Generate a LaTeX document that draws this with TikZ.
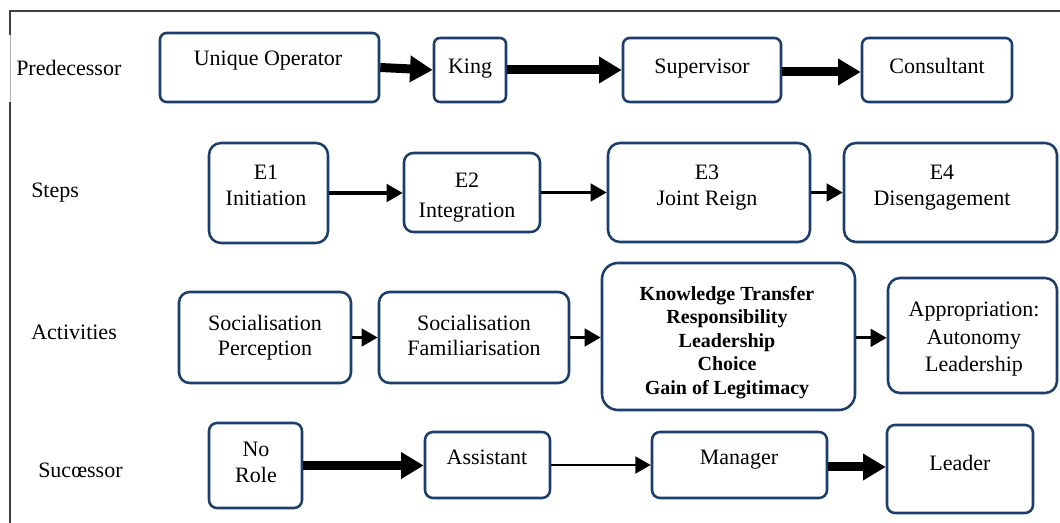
\documentclass[tikz,border=0pt]{standalone}
\usepackage{fontspec}
\setmainfont{Liberation Serif}
\usetikzlibrary{arrows.meta}
\definecolor{boxblue}{RGB}{28,62,108}
\definecolor{framegray}{RGB}{64,64,64}
\newcommand{\rbox}[6]{\node[box, rounded corners=#6, minimum width={(#4-#2)*0.75pt}, minimum height={(#5-#3)*0.75pt}] (#1) at ({(#2+#4)/2},{(#3+#5)/2}) {};}
\begin{document}
\begin{tikzpicture}[x=0.75pt,y=-0.75pt,
  box/.style={draw=boxblue, line width=1.9pt, inner sep=0pt, fill=white},
  txt/.style={font=\fontsize{16.5}{19}\selectfont, align=center, inner sep=0pt},
  btxt/.style={font=\fontsize{15}{17.6}\selectfont\bfseries, align=center, inner sep=0pt},
  bigarrow/.style={line width=6.75pt, -{Triangle[length=17pt,width=19pt]}},
  smallarrow/.style={line width=2.5pt, -{Triangle[length=12pt,width=13pt]}},
  thinarrow/.style={line width=2pt, -{Triangle[length=11.5pt,width=12.5pt]}},
  framel/.style={draw=framegray, line width=1.5pt}
]
\useasboundingbox (0,0) rectangle (1060,523);
\fill[white] (0,0) rectangle (1060,523);
% frame
\draw[framel] (10,523) -- (10,102);
\draw[framel] (10,35) -- (10,11) -- (1060,11);
\draw[draw=gray!60, line width=0.6pt] (10,35) -- (10,102);
% row labels
\node[txt, anchor=base west] (lpred) at (16,76) {Predecessor};
\node[txt, anchor=base west] (lsteps) at (31,198) {Steps};
\node[txt, anchor=base west] (lact) at (31,340) {Activities};
\node[txt, anchor=base west] (lsucc) at (38,478) {Sucœssor};
% boxes
\rbox{uo}{160}{33}{379}{102}{5pt}
\rbox{king}{434}{38}{506}{102}{4.5pt}
\rbox{sup}{623}{38}{781}{102}{5pt}
\rbox{cons}{862}{38}{1012}{102}{5pt}
\rbox{eone}{209}{143}{328}{243}{9pt}
\rbox{etwo}{404}{153}{540}{232}{7pt}
\rbox{ethree}{608}{143}{810}{242}{9pt}
\rbox{efour}{844}{143}{1057}{242}{9pt}
\rbox{sp}{179}{292}{351}{383}{8pt}
\rbox{sf}{379}{292}{569}{383}{8pt}
\rbox{kt}{602}{263}{855}{410}{12pt}
\rbox{ap}{888}{278}{1057}{393}{9pt}
\rbox{nr}{209}{423}{302}{508}{6pt}
\rbox{as}{425}{432}{550}{498}{6pt}
\rbox{mg}{652}{432}{827}{498}{6pt}
\rbox{ld}{887}{425}{1033}{513}{6pt}
% texts
\node[txt, anchor=base] (tuo) at (268,66) {Unique Operator};
\node[txt, anchor=base] (tking) at (470,74) {King};
\node[txt, anchor=base] (tsup) at (702,74) {Supervisor};
\node[txt, anchor=base] (tcons) at (937,74) {Consultant};
\node[txt, anchor=north] (teone) at (266,165) {E1\\Initiation};
\node[txt, anchor=north] (tetwo) at (467,173) {E2\\[3pt]Integration};
\node[txt, anchor=north] (tethree) at (707,165) {E3\\Joint Reign};
\node[txt, anchor=north] (tefour) at (942,165) {E4\\Disengagement};
\node[txt, anchor=north] (tsp) at (265,315) {Socialisation\\Perception};
\node[txt, anchor=north] (tsf) at (474,315) {Socialisation\\Familiarisation};
\node[btxt, anchor=north] (tkt) at (727,286) {Knowledge Transfer\\Responsibility\\Leadership\\Choice\\Gain of Legitimacy};
\node[txt, anchor=north] (tap) at (974,302) {Appropriation:\\[1.5pt]Autonomy\\[1.5pt]Leadership};
\node[txt, anchor=north] (tnr) at (256,442) {No\\[0.5pt]Role};
\node[txt, anchor=base] (tas) at (487,465) {Assistant};
\node[txt, anchor=base] (tmg) at (739,465) {Manager};
\node[txt, anchor=base] (tld) at (960,471) {Leader};
% connectors
\draw[bigarrow] (uo.east) -- (king.west);
\draw[bigarrow] (king.east) -- (king.east -| sup.west);
\draw[bigarrow] ([yshift=-1.5pt]sup.east) -- ([yshift=-1.5pt]sup.east -| cons.west);
\draw[smallarrow] (eone.east) -- (eone.east -| etwo.west);
\draw[smallarrow] (etwo.east) -- (etwo.east -| ethree.west);
\draw[smallarrow] (ethree.east) -- (ethree.east -| efour.west);
\draw[smallarrow] (sp.east) -- (sp.east -| sf.west);
\draw[smallarrow] (sf.east) -- (sf.east -| kt.west);
\draw[smallarrow] ([yshift=-1pt]kt.east) -- ([yshift=-1pt]kt.east -| ap.west);
\draw[bigarrow] (nr.east) -- (nr.east -| as.west);
\draw[thinarrow] (as.east) -- (as.east -| mg.west);
\draw[bigarrow] ([yshift=-1.5pt]mg.east) -- ([yshift=-1.5pt]mg.east -| ld.west);
\end{tikzpicture}
\end{document}
